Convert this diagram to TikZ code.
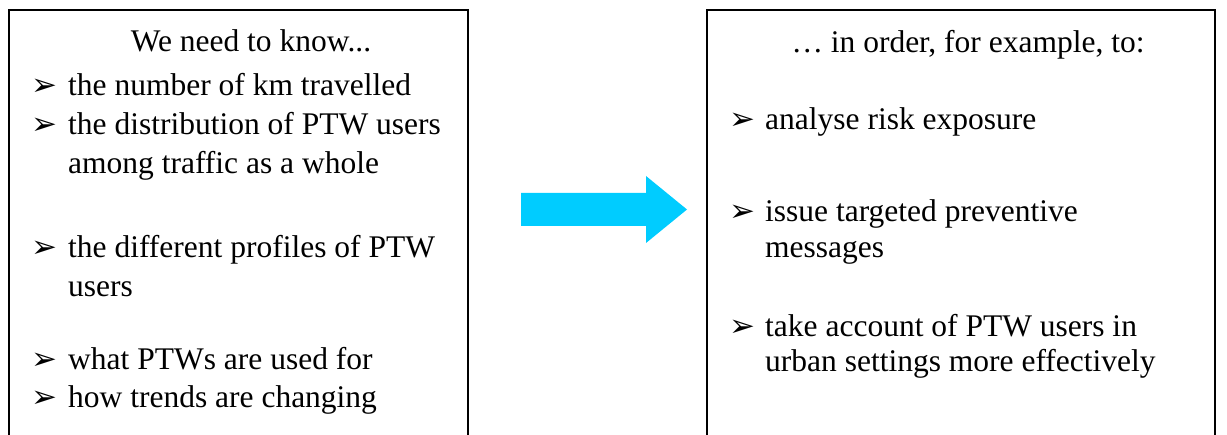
\documentclass[tikz,border=0pt]{standalone}
\usepackage{fontspec}
\setmainfont{Liberation Serif}
\newfontfamily\timesfont{Liberation Serif}
\newfontfamily\symfont{DejaVu Sans}
\definecolor{arrowblue}{HTML}{00CCFF}
\tikzset{
  boxline/.style={draw=black, line width=1.3pt},
  txt/.style={anchor=base west, inner sep=0pt, font=\timesfont\fontsize{31.5}{38}\selectfont},
  ttl/.style={anchor=base, inner sep=0pt, font=\timesfont\fontsize{31.5}{38}\selectfont},
  bul/.style={anchor=base west, inner sep=0pt, font=\symfont\fontsize{31}{31}\selectfont},
  flow/.style={fill=arrowblue, draw=none}
}
\begin{document}
\begin{tikzpicture}[x=1pt,y=-1pt]
\useasboundingbox (0,0) rectangle (1227,435);
% boxes (bottom edge outside the picture)
\draw[boxline] (9,435) -- (9,10) -- (468,10) -- (468,435);
\draw[boxline] (707,435) -- (707,10) -- (1215,10) -- (1215,435);
% arrow
\fill[flow] (521,193) -- (646,193) -- (646,176) -- (687,209.5) -- (646,243) -- (646,226) -- (521,226) -- cycle;
% left box
\node[ttl] (lt) at (251,52) {We need to know...};
\node[bul] (lb1) at (31,96) {➢};
\node[txt] (l1) at (68,96) {the number of km travelled};
\node[bul] (lb2) at (31,135) {➢};
\node[txt] (l2a) at (68,135) {the distribution of PTW users};
\node[txt] (l2b) at (68,174) {among traffic as a whole};
\node[bul] (lb3) at (31,258) {➢};
\node[txt] (l3a) at (68,258) {the different profiles of PTW};
\node[txt] (l3b) at (68,297) {users};
\node[bul] (lb4) at (31,370) {➢};
\node[txt] (l4) at (68,370) {what PTWs are used for};
\node[bul] (lb5) at (31,408) {➢};
\node[txt] (l5) at (68,408) {how trends are changing};
% right box
\node[ttl] (rt) at (968,53) {… in order, for example, to:};
\node[bul] (rb1) at (729,130) {➢};
\node[txt] (r1) at (765,130) {analyse risk exposure};
\node[bul] (rb2) at (729,222) {➢};
\node[txt] (r2a) at (765,222) {issue targeted preventive};
\node[txt] (r2b) at (765,258) {messages};
\node[bul] (rb3) at (729,337) {➢};
\node[txt] (r3a) at (765,337) {take account of PTW users in};
\node[txt] (r3b) at (765,372) {urban settings more effectively};
\end{tikzpicture}
\end{document}
